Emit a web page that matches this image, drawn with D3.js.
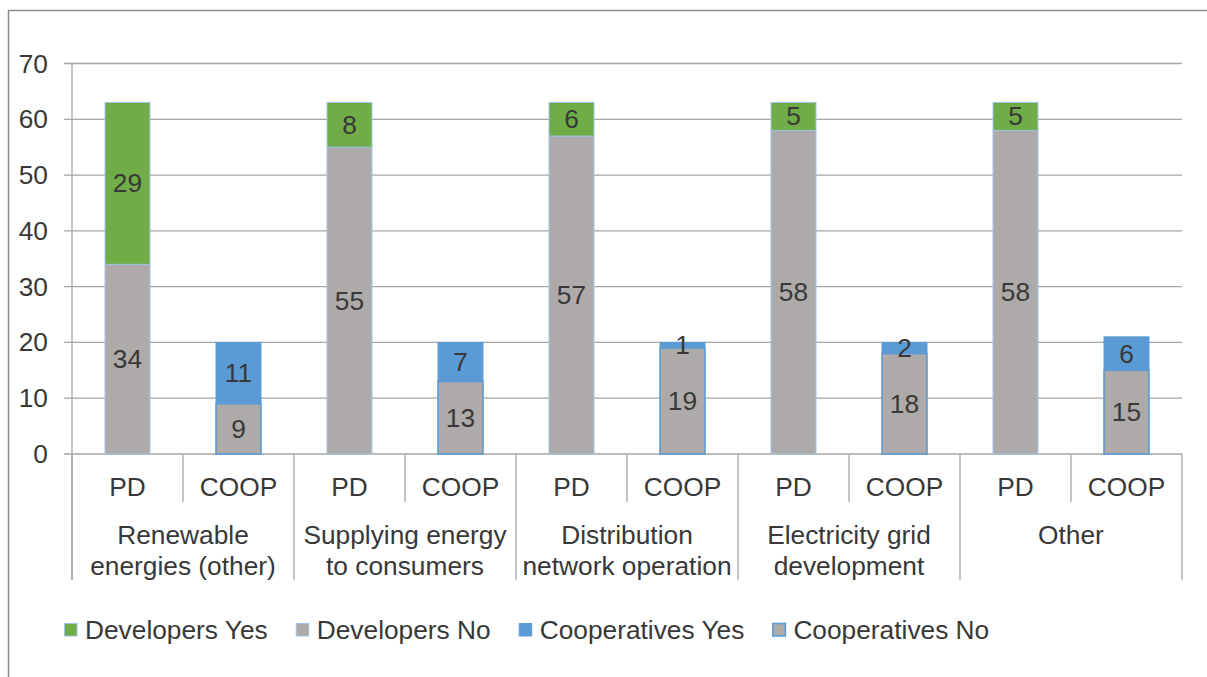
<!DOCTYPE html>
<html><head><meta charset="utf-8">
<script src="https://cdn.jsdelivr.net/npm/d3@7"></script>
<style>body{margin:0;background:#fff}svg{display:block}text{font-family:"Liberation Sans",Arial,sans-serif;fill:#383838}</style>
</head><body><svg id="c" width="1207" height="677"></svg>
<script>
const categories = [["Renewable","energies (other)"],["Supplying energy","to consumers"],["Distribution","network operation"],["Electricity grid","development"],["Other"]];
const groups = ["PD","COOP"];
const developersYes = [29, 8, 6, 5, 5];
const developersNo = [34, 55, 57, 58, 58];
const cooperativesYes = [11, 7, 1, 2, 6];
const cooperativesNo = [9, 13, 19, 18, 15];
const yTicks = [0,10,20,30,40,50,60,70];
const seriesNames = ["Developers Yes","Developers No","Cooperatives Yes","Cooperatives No"];

const GREEN="#70ad47", GRAY="#aeaaaa", BLUE="#5b9bd5", LIGHTBLUE="#9dc3e6", GRID="#a6a6a6";
const svg = d3.select("#c");
const FS = 26.3;

// frame
svg.append("path").attr("d","M8.5,677V10.5H1207").attr("fill","none").attr("stroke","#8c8c8c").attr("stroke-width",1.5);

const slots = [];
categories.forEach((c,i)=>groups.forEach(g=>slots.push(i+"|"+g)));
const x = d3.scaleBand().domain(slots).range([72,1182]).padding(0);
const y = d3.scaleLinear().domain([0,70]).range([454,63.5]);
const bw = x.bandwidth()*0.405;

// gridlines
svg.append("g").selectAll("line").data(yTicks).join("line")
  .attr("x1",64).attr("x2",1182).attr("y1",d=>y(d)).attr("y2",d=>y(d))
  .attr("stroke",GRID).attr("stroke-width",1.3);
// y axis line
svg.append("line").attr("x1",72).attr("x2",72).attr("y1",y(70)).attr("y2",580).attr("stroke",GRID).attr("stroke-width",1.3);
svg.append("g").selectAll("text").data(yTicks).join("text")
  .attr("x",48).attr("y",d=>y(d)).attr("text-anchor","end").attr("dominant-baseline","central")
  .style("font-size",FS+"px").text(d=>d);

// bars
const segs = [];
categories.forEach((c,i)=>{
  segs.push({slot:i+"|PD",y0:0,y1:developersNo[i],v:developersNo[i],fill:GRAY,stroke:LIGHTBLUE,sw:1});
  segs.push({slot:i+"|PD",y0:developersNo[i],y1:developersNo[i]+developersYes[i],v:developersYes[i],fill:GREEN,stroke:LIGHTBLUE,sw:1});
  segs.push({slot:i+"|COOP",y0:cooperativesNo[i],y1:cooperativesNo[i]+cooperativesYes[i],v:cooperativesYes[i],fill:BLUE,stroke:BLUE,sw:1});
  segs.push({slot:i+"|COOP",y0:0,y1:cooperativesNo[i],v:cooperativesNo[i],fill:GRAY,stroke:BLUE,sw:1.6});
});
const cx = s => x(s)+x.bandwidth()/2;
svg.append("g").selectAll("rect").data(segs).join("rect")
  .attr("x",d=>cx(d.slot)-bw/2).attr("width",bw)
  .attr("y",d=>y(d.y1)).attr("height",d=>y(d.y0)-y(d.y1))
  .attr("fill",d=>d.fill).attr("stroke",d=>d.stroke).attr("stroke-width",d=>d.sw);
svg.append("g").selectAll("text").data(segs).join("text")
  .attr("x",d=>cx(d.slot)).attr("y",d=>y((d.y0+d.y1)/2)).attr("text-anchor","middle").attr("dominant-baseline","central")
  .style("font-size",FS+"px").text(d=>d.v);

// x axis separators
const xs = d3.range(11).map(k=>72+k*x.step());
svg.append("g").selectAll("line").data(xs).join("line")
  .attr("x1",d=>d).attr("x2",d=>d).attr("y1",454).attr("y2",(d,k)=>k%2===0?580:502)
  .attr("stroke",GRID).attr("stroke-width",1.3);
svg.append("g").selectAll("text").data(slots).join("text")
  .attr("x",d=>cx(d)).attr("y",487).attr("text-anchor","middle").attr("dominant-baseline","central")
  .style("font-size",FS+"px").text(d=>d.split("|")[1]);
const gl = svg.append("g").selectAll("text").data(categories).join("text")
  .attr("x",(d,i)=>x(i+"|PD")+x.step()).attr("y",535).attr("text-anchor","middle").attr("dominant-baseline","central")
  .style("font-size",FS+"px");
gl.selectAll("tspan").data(d=>d).join("tspan").attr("x",function(){return this.parentNode.getAttribute("x");})
  .attr("dy",(d,j)=>j===0?0:31).text(d=>d);

// legend
const legFill=[GREEN,GRAY,BLUE,GRAY], legStroke=[LIGHTBLUE,LIGHTBLUE,BLUE,BLUE], legSw=[1,1,1,1.6];
let lx = 64;
seriesNames.forEach((n,i)=>{
  svg.append("rect").attr("x",lx+0.5).attr("y",623.5).attr("width",12.5).attr("height",12.5)
    .attr("fill",legFill[i]).attr("stroke",legStroke[i]).attr("stroke-width",legSw[i]);
  const t = svg.append("text").attr("x",lx+21).attr("y",630).attr("dominant-baseline","central").style("font-size",FS+"px").text(n);
  lx = lx+21+t.node().getComputedTextLength()+28;
});
</script></body></html>
